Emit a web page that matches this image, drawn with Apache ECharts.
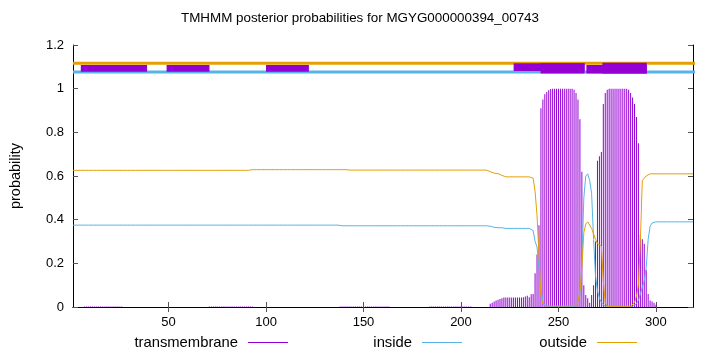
<!DOCTYPE html>
<html><head><meta charset="utf-8">
<script src="https://cdn.jsdelivr.net/npm/echarts@6/dist/echarts.min.js"></script>
<style>html,body{margin:0;padding:0;background:#fff}#c{width:720px;height:352px}</style>
</head><body><div id="c"></div>
<script>
// ---------------- data ----------------
const titleText = 'TMHMM posterior probabilities for MGYG000000394_00743';
const xTickValues = [50, 100, 150, 200, 250, 300];
const seqStart = 1;
const seqEnd = 319;

// posterior probability of transmembrane, residues 1..319
const transmembrane = [
  0,0,0,0,0,0,0.002,0.002,0.002,0.002,
  0.002,0.002,0.002,0.002,0.002,0.002,0.002,0.002,0.002,0.002,
  0.002,0.002,0.002,0.002,0.002,0.002,0,0,0,0,
  0,0,0,0,0,0,0,0,0,0,
  0,0,0,0,0,0,0,0,0,0,
  0,0,0,0,0,0,0,0,0,0,
  0,0,0,0,0,0,0,0,0,0,
  0.002,0.002,0.002,0.002,0.002,0.002,0.002,0.002,0.002,0.002,
  0.002,0.002,0.002,0.002,0.002,0.002,0.002,0.002,0.002,0.002,
  0.002,0.002,0.002,0,0,0,0,0,0,0,
  0,0,0,0,0,0,0,0,0,0,
  0,0,0,0,0,0,0,0,0,0,
  0,0,0,0,0,0,0,0,0,0,
  0,0,0,0,0,0,0,0.002,0.002,0.002,
  0.002,0.002,0.002,0.002,0.002,0.002,0.002,0.002,0.002,0.002,
  0.002,0.002,0.002,0.002,0.002,0.002,0.002,0.002,0.002,0.002,
  0.002,0.002,0.002,0,0,0,0,0,0,0,
  0,0,0,0,0,0,0,0,0,0,
  0,0,0,0.002,0.002,0.002,0.002,0.002,0.002,0.002,
  0.002,0.002,0.002,0.002,0.002,0.002,0.002,0.002,0.002,0.002,
  0.002,0.002,0.002,0.002,0.002,0,0,0,0,0,
  0,0,0,0,0.015,0.02,0.025,0.03,0.033,0.037,
  0.04,0.043,0.043,0.043,0.043,0.043,0.043,0.043,0.043,0.043,
  0.043,0.045,0.048,0.052,0.045,0.058,0.06,0.155,0.24,0.375,
  0.91,0.95,0.975,0.985,0.993,0.998,1,1,1,1,
  1,1,1,1,1,1,1,0.995,0.98,0.95,
  0.86,0.62,0.1,0.055,0.04,0.02,0.055,0.1,0.3,0.67,
  0.69,0.71,0.93,0.98,0.995,1,1,1,1,1,
  1,1,1,1,1,0.995,0.98,0.96,0.93,0.87,
  0.75,0.33,0.31,0.29,0.17,0.06,0.03,0.025,0.02,0.01,
  0,0,0,0,0,0,0,0,0,0,
  0,0,0,0,0,0,0,0,0
];

// posterior probability of inside, residues 1..319
const inside = [
  0.375,0.375,0.375,0.375,0.375,0.375,0.375,0.375,0.375,0.375,
  0.375,0.375,0.375,0.375,0.375,0.375,0.375,0.375,0.375,0.375,
  0.375,0.375,0.375,0.375,0.375,0.375,0.375,0.375,0.375,0.375,
  0.375,0.375,0.375,0.375,0.375,0.375,0.375,0.375,0.375,0.375,
  0.375,0.375,0.375,0.375,0.375,0.375,0.375,0.375,0.375,0.375,
  0.375,0.375,0.375,0.375,0.375,0.375,0.375,0.375,0.375,0.375,
  0.375,0.375,0.375,0.375,0.375,0.375,0.375,0.375,0.375,0.375,
  0.375,0.375,0.375,0.375,0.375,0.375,0.375,0.375,0.375,0.375,
  0.375,0.375,0.375,0.375,0.375,0.375,0.375,0.375,0.375,0.375,
  0.375,0.375,0.375,0.375,0.375,0.375,0.375,0.375,0.375,0.375,
  0.375,0.375,0.375,0.375,0.375,0.375,0.375,0.375,0.375,0.375,
  0.375,0.375,0.375,0.375,0.375,0.375,0.375,0.375,0.375,0.375,
  0.375,0.375,0.375,0.375,0.375,0.375,0.375,0.375,0.375,0.375,
  0.375,0.375,0.375,0.375,0.375,0.375,0.375,0.372,0.372,0.372,
  0.372,0.372,0.372,0.372,0.372,0.372,0.372,0.372,0.372,0.372,
  0.372,0.372,0.372,0.372,0.372,0.372,0.372,0.372,0.372,0.372,
  0.372,0.372,0.372,0.372,0.372,0.372,0.372,0.372,0.372,0.372,
  0.372,0.372,0.372,0.372,0.372,0.372,0.372,0.372,0.372,0.372,
  0.372,0.372,0.372,0.372,0.372,0.372,0.372,0.372,0.372,0.372,
  0.372,0.372,0.372,0.372,0.372,0.372,0.372,0.372,0.372,0.372,
  0.372,0.372,0.372,0.372,0.372,0.372,0.372,0.372,0.372,0.372,
  0.372,0.372,0.372,0.372,0.37,0.367,0.365,0.363,0.363,0.363,
  0.363,0.36,0.36,0.36,0.36,0.36,0.36,0.36,0.36,0.36,
  0.36,0.36,0.36,0.36,0.36,0.358,0.35,0.3,0.275,0.18,
  0.08,0.025,0.008,0.002,0.002,0.002,0.002,0.002,0.002,0.002,
  0.002,0.002,0.002,0.002,0.002,0.002,0.002,0.002,0.005,0.01,
  0.05,0.2,0.5,0.6,0.61,0.58,0.52,0.31,0.14,0.075,
  0.04,0.02,0.012,0.003,0.003,0.003,0.003,0.003,0.003,0.003,
  0.003,0.003,0.003,0.003,0.003,0.003,0.003,0.003,0.003,0.015,
  0.03,0.06,0.09,0.12,0.18,0.31,0.37,0.385,0.39,0.39,
  0.39,0.39,0.39,0.39,0.39,0.39,0.39,0.39,0.39,0.39,
  0.39,0.39,0.39,0.39,0.39,0.39,0.39,0.39,0.39
];

// posterior probability of outside, residues 1..319
const outside = [
  0.626,0.626,0.626,0.626,0.626,0.626,0.626,0.626,0.626,0.626,
  0.626,0.626,0.626,0.626,0.626,0.626,0.626,0.626,0.626,0.626,
  0.626,0.626,0.626,0.626,0.626,0.626,0.626,0.626,0.626,0.626,
  0.626,0.626,0.626,0.626,0.626,0.626,0.626,0.626,0.626,0.626,
  0.626,0.626,0.626,0.626,0.626,0.626,0.626,0.626,0.626,0.626,
  0.626,0.626,0.626,0.626,0.626,0.626,0.626,0.626,0.626,0.626,
  0.626,0.626,0.626,0.626,0.626,0.626,0.626,0.626,0.626,0.626,
  0.626,0.626,0.626,0.626,0.626,0.626,0.626,0.626,0.626,0.626,
  0.626,0.626,0.626,0.626,0.626,0.626,0.626,0.626,0.626,0.626,
  0.626,0.629,0.629,0.629,0.629,0.629,0.629,0.629,0.629,0.629,
  0.629,0.629,0.629,0.629,0.629,0.629,0.629,0.629,0.629,0.629,
  0.629,0.629,0.629,0.629,0.629,0.629,0.629,0.629,0.629,0.629,
  0.629,0.629,0.629,0.629,0.629,0.629,0.629,0.629,0.629,0.629,
  0.629,0.629,0.629,0.629,0.629,0.629,0.629,0.629,0.629,0.629,
  0.629,0.629,0.627,0.627,0.627,0.627,0.627,0.627,0.627,0.627,
  0.627,0.627,0.627,0.627,0.627,0.627,0.627,0.627,0.627,0.627,
  0.627,0.627,0.627,0.627,0.627,0.627,0.627,0.627,0.627,0.627,
  0.627,0.627,0.627,0.627,0.627,0.627,0.627,0.627,0.627,0.627,
  0.627,0.627,0.627,0.627,0.627,0.627,0.627,0.627,0.627,0.627,
  0.627,0.627,0.627,0.627,0.627,0.627,0.627,0.627,0.627,0.627,
  0.627,0.627,0.627,0.627,0.627,0.627,0.627,0.627,0.627,0.627,
  0.627,0.627,0.627,0.626,0.62,0.616,0.613,0.612,0.611,0.608,
  0.603,0.599,0.596,0.596,0.596,0.596,0.596,0.596,0.596,0.596,
  0.596,0.596,0.596,0.596,0.596,0.594,0.59,0.53,0.42,0.24,
  0.05,0.015,0.005,0.005,0.005,0.005,0.005,0.005,0.005,0.005,
  0.005,0.005,0.005,0.005,0.005,0.005,0.005,0.005,0.01,0.025,
  0.07,0.18,0.34,0.38,0.39,0.385,0.36,0.335,0.31,0.29,
  0.285,0.28,0.12,0.02,0.003,0.003,0.003,0.003,0.003,0.003,
  0.003,0.003,0.003,0.003,0.003,0.003,0.003,0.003,0.02,0.05,
  0.1,0.3,0.58,0.59,0.6,0.605,0.61,0.61,0.61,0.61,
  0.61,0.61,0.61,0.61,0.61,0.61,0.61,0.61,0.61,0.61,
  0.61,0.61,0.61,0.61,0.61,0.61,0.61,0.61,0.61
];

// predicted topology strip at the top: [from, to, lower prob, upper prob]
const topologyBoxes = [
  [5, 39, 1.078, 1.108],
  [49, 71, 1.078, 1.108],
  [100, 122, 1.078, 1.108],
  [227, 263.4, 1.081, 1.116],
  [240.8, 263.4, 1.070, 1.116],
  [264.3, 295.3, 1.070, 1.108],
  [272.5, 295.3, 1.070, 1.119]
];
const outsideStripLevel = 1.116;
const insideStripLevel = 1.076;
const stripEnd = 334;

// ---------------- chart ----------------
const FONT = 'Liberation Sans, Arial, sans-serif';
const C_TM = '#9400d3', C_IN = '#56b4e9', C_OUT = '#e69f00';
const residues = transmembrane.map((_, i) => i + 1);
const pair = arr => arr.map((v, i) => [residues[i], v]);

const chart = echarts.init(document.getElementById('c'), null, {renderer: 'canvas'});

const axisCommon = {
  axisLine: {show: true, lineStyle: {color: '#000', width: 1}},
  splitLine: {show: false}
};

chart.setOption({
  animation: false,
  backgroundColor: '#fff',
  textStyle: {fontFamily: FONT},
  title: {
    text: titleText, left: 'center', top: 12, padding: 0,
    textStyle: {fontSize: 13.4, fontWeight: 'normal', color: '#000', fontFamily: FONT}
  },
  grid: {left: 73, right: 27, top: 45, bottom: 45, containLabel: false, outerBoundsMode: 'none'},
  legend: [
    {data: ['transmembrane'], right: 432},
    {data: ['inside'], right: 258},
    {data: ['outside'], right: 83}
  ].map(l => Object.assign({
    top: 335, align: 'right', orient: 'horizontal', padding: 0,
    icon: 'rect', itemWidth: 40, itemHeight: 1, selectedMode: false,
    textStyle: {fontSize: 14.8, color: '#000', fontFamily: FONT, padding: [0, 5, 0, 0]}
  }, l)),
  xAxis: [
    Object.assign({}, axisCommon, {
      type: 'value', min: seqStart, max: seqEnd, position: 'bottom',
      axisTick: {show: true, inside: true, length: 5, lineStyle: {color: '#555'}, customValues: xTickValues},
      axisLabel: {show: true, customValues: xTickValues, color: '#000', fontSize: 13, margin: 9, fontFamily: FONT}
    }),
    Object.assign({}, axisCommon, {
      type: 'value', min: seqStart, max: seqEnd, position: 'top',
      axisTick: {show: true, inside: true, length: 5, lineStyle: {color: '#555'}, customValues: xTickValues},
      axisLabel: {show: false}
    })
  ],
  yAxis: [
    Object.assign({}, axisCommon, {
      type: 'value', min: 0, max: 1.2, interval: 0.2, position: 'left',
      name: 'probability', nameLocation: 'middle', nameGap: 50, nameRotate: 90,
      nameTextStyle: {fontSize: 14.5, color: '#000', fontFamily: FONT},
      axisTick: {show: true, inside: true, length: 5, lineStyle: {color: '#555'}},
      axisLabel: {color: '#000', fontSize: 13, margin: 9, fontFamily: FONT}
    }),
    Object.assign({}, axisCommon, {
      type: 'value', min: 0, max: 1.2, interval: 0.2, position: 'right',
      axisTick: {show: true, inside: true, length: 5, lineStyle: {color: '#555'}},
      axisLabel: {show: false}
    })
  ],
  series: [
    {
      name: 'outsideStrip', type: 'line', clip: false, showSymbol: false, silent: true,
      data: [[seqStart, outsideStripLevel], [stripEnd, outsideStripLevel]],
      lineStyle: {color: C_OUT, width: 3}, z: 3
    },
    {
      name: 'insideStrip', type: 'line', clip: false, showSymbol: false, silent: true,
      data: [[seqStart, insideStripLevel], [stripEnd, insideStripLevel]],
      lineStyle: {color: C_IN, width: 3}, z: 3
    },
    {
      name: 'topology', type: 'custom', silent: true, z: 4,
      data: topologyBoxes,
      renderItem: (params, api) => {
        const a = api.coord([api.value(0), api.value(3)]);
        const b = api.coord([api.value(1), api.value(2)]);
        return {type: 'rect', shape: {x: a[0], y: a[1], width: b[0] - a[0], height: b[1] - a[1]},
                style: {fill: C_TM}};
      }
    },
    {
      name: 'transmembrane', type: 'bar', data: pair(transmembrane),
      barWidth: 1, itemStyle: {color: C_TM}, z: 2
    },
    {
      name: 'inside', type: 'line', data: pair(inside), showSymbol: false,
      lineStyle: {color: C_IN, width: 1}, itemStyle: {color: C_IN}, z: 3
    },
    {
      name: 'outside', type: 'line', data: pair(outside), showSymbol: false,
      lineStyle: {color: C_OUT, width: 1}, itemStyle: {color: C_OUT}, z: 3
    }
  ]
});
</script>
</body></html>
